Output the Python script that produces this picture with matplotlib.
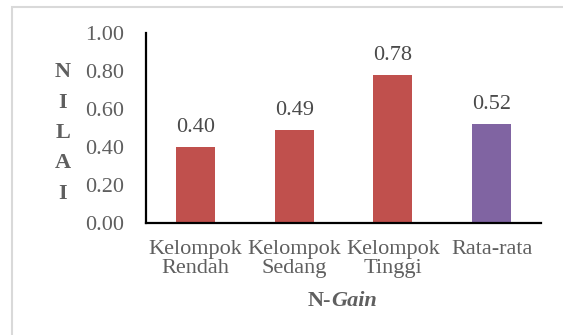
import matplotlib
matplotlib.use("Agg")
import matplotlib.pyplot as plt
from matplotlib.patches import Rectangle

# nilai N-Gain per kelompok
kelompok = ["Kelompok\nRendah", "Kelompok\nSedang", "Kelompok\nTinggi", "Rata-rata"]
nilai = [0.40, 0.49, 0.78, 0.52]
warna = ["#C0504D", "#C0504D", "#C0504D", "#8064A2"]
yticks = [0.0, 0.2, 0.4, 0.6, 0.8, 1.0]

plt.rcParams["font.family"] = ["Liberation Serif", "DejaVu Serif"]
abu = "#5f5f5f"
fs = 16

fig = plt.figure(figsize=(5.63, 3.35), dpi=100)
fig.patch.set_facecolor("white")

# bingkai grafik
fig.add_artist(Rectangle((12 / 563, -0.1), 1.2, 1 - 7 / 335 + 0.1,
                         transform=fig.transFigure, fill=False,
                         edgecolor="#D9D9D9", linewidth=1.5))

ax = fig.add_axes([146 / 563, 112 / 335, 395 / 563, 190 / 335])
x = range(len(kelompok))
bars = ax.bar(x, nilai, width=0.395, color=warna)

for b, v in zip(bars, nilai):
    ax.annotate(f"{v:.2f}", (b.get_x() + b.get_width() / 2, v),
                xytext=(0, 7), textcoords="offset points",
                ha="center", va="bottom", fontsize=fs, color="#4a4a4a")

ax.set_xlim(-0.5, 3.5)
ax.set_ylim(0, 1.0)
ax.set_yticks(yticks)
ax.set_yticklabels([f"{t:.2f}" for t in yticks], fontsize=fs, color=abu)
ax.set_xticks(list(x))
ax.set_xticklabels(kelompok, fontsize=fs, color=abu, linespacing=1.05)
ax.tick_params(axis="y", length=0, pad=16)
ax.tick_params(axis="x", length=0, pad=12)

for s in ["top", "right"]:
    ax.spines[s].set_visible(False)
for s in ["left", "bottom"]:
    ax.spines[s].set_linewidth(1.6)
    ax.spines[s].set_color("black")

# label sumbu
fig.text(63 / 563, 1 - 133 / 335, "N\nI\nL\nA\nI", ha="center", va="center",
         fontsize=fs, fontweight="bold", color=abu, linespacing=1.7)
fig.text(331 / 563, 1 - 301 / 335, "N-", ha="right", va="center",
         fontsize=fs, fontweight="bold", color=abu)
fig.text(331 / 563, 1 - 301 / 335, "Gain", ha="left", va="center",
         fontsize=fs, fontweight="bold", fontstyle="italic", color=abu)

fig.savefig("out.png", dpi=100)
